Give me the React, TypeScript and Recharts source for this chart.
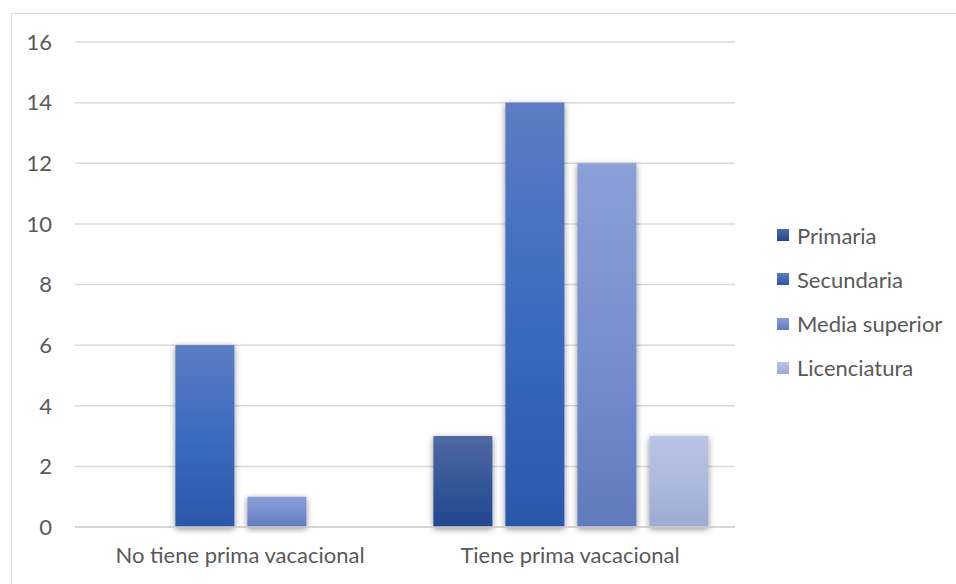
import React from "react";
import { BarChart, Bar, XAxis, YAxis, CartesianGrid } from "recharts";

const categories = ["No tiene prima vacacional", "Tiene prima vacacional"];
const primaria = [0, 3];
const secundaria = [6, 14];
const mediaSuperior = [1, 12];
const licenciatura = [0, 3];
const yTicks = [0, 2, 4, 6, 8, 10, 12, 14, 16];

const series = [
  { key: "primaria", name: "Primaria", values: primaria, top: "#5069a3", mid: "#35579a", bottom: "#22478f" },
  { key: "secundaria", name: "Secundaria", values: secundaria, top: "#5c7dc3", mid: "#3b6bbf", bottom: "#2b57ac" },
  { key: "media", name: "Media superior", values: mediaSuperior, top: "#8ba0d7", mid: "#788fcf", bottom: "#5f7abe" },
  { key: "lic", name: "Licenciatura", values: licenciatura, top: "#b9c4e5", mid: "#adb9de", bottom: "#9eaad1" },
];

const data = categories.map((c, i) => {
  const row: any = { category: c };
  series.forEach((s) => (row[s.key] = s.values[i]));
  return row;
});

const FONT = "Lato, 'Open Sans', sans-serif";
const TEXT = "#595959";
const FS = 22;

const makeShape = (key: string) => (props: any) => {
  const { x, y, width, height } = props;
  if (!height || height <= 0) return <g />;
  return (
    <rect
      x={x}
      y={y}
      width={width}
      height={height}
      fill={`url(#grad-${key})`}
      filter="url(#barShadow)"
    />
  );
};

export default function App() {
  return (
    <div
      style={{
        position: "absolute",
        left: 0,
        top: 0,
        width: 956,
        height: 584,
        overflow: "hidden",
        background: "#ffffff",
        fontFamily: FONT,
      }}
    >
      <div
        style={{
          position: "absolute",
          left: 11,
          top: 13,
          width: 1100,
          height: 1100,
          border: "1.5px solid #d9d9d9",
        }}
      />
      <div style={{ position: "absolute", left: 0, top: 0 }}>
        <BarChart
          width={956}
          height={584}
          data={data}
          margin={{ top: 42, right: 221, bottom: 0, left: 0 }}
          barCategoryGap="8.6%"
          barGap={13}
        >
          <defs>
            {series.map((s) => (
              <linearGradient key={s.key} id={`grad-${s.key}`} x1="0" y1="0" x2="0" y2="1">
                <stop offset="0%" stopColor={s.top} />
                <stop offset="50%" stopColor={s.mid} />
                <stop offset="100%" stopColor={s.bottom} />
              </linearGradient>
            ))}
            <filter id="barShadow" x="-30%" y="-10%" width="160%" height="130%">
              <feDropShadow dx="0" dy="2" stdDeviation="3" floodColor="#000000" floodOpacity="0.45" />
            </filter>
          </defs>
          <CartesianGrid vertical={false} stroke="#d9d9d9" strokeWidth={1.5} />
          <XAxis
            dataKey="category"
            height={57}
            tickLine={false}
            tickSize={0}
            tickMargin={20}
            axisLine={{ stroke: "#d0d0d0", strokeWidth: 1.5 }}
            tick={{ fill: TEXT, fontSize: FS, fontFamily: FONT }}
          />
          <YAxis
            width={75}
            domain={[0, 16]}
            ticks={yTicks}
            axisLine={false}
            tickLine={false}
            tickSize={0}
            tickMargin={23}
            tick={{ fill: TEXT, fontSize: FS, fontFamily: FONT }}
          />
          {series.map((s) => (
            <Bar
              key={s.key}
              dataKey={s.key}
              name={s.name}
              fill={s.mid}
              isAnimationActive={false}
              shape={makeShape(s.key)}
            />
          ))}
        </BarChart>
      </div>
      <div style={{ position: "absolute", left: 777, top: 0 }}>
        {series.map((s, i) => (
          <div
            key={s.key}
            style={{
              position: "absolute",
              left: 0,
              top: 235 + i * 44.3 - 15,
              height: 30,
              display: "flex",
              alignItems: "center",
              whiteSpace: "nowrap",
            }}
          >
            <span
              style={{
                display: "inline-block",
                width: 12,
                height: 12,
                background: `linear-gradient(${s.top}, ${s.bottom})`,
                marginRight: 8,
              }}
            />
            <span style={{ color: TEXT, fontSize: FS, fontFamily: FONT }}>{s.name}</span>
          </div>
        ))}
      </div>
    </div>
  );
}
